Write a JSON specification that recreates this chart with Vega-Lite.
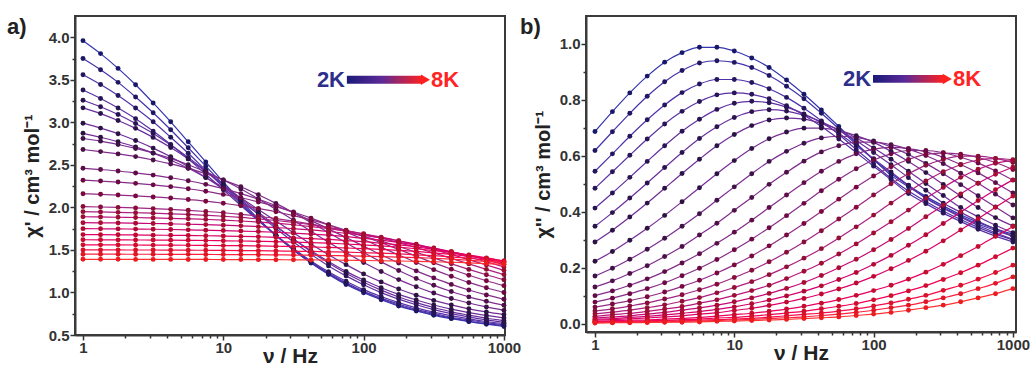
{
"$schema":"https://vega.github.io/schema/vega-lite/v6.json",
"background":"white",
"padding":{"left":5,"top":14,"right":5,"bottom":5},
"spacing":-3,
"config":{
"font":"Liberation Sans",
"view":{"stroke":"#3a3a3a","strokeWidth":2},
"axis":{"labelFont":"Liberation Sans","labelFontSize":15,"labelFontWeight":"bold","labelColor":"#333","titleFont":"Liberation Sans","titleFontWeight":"bold","titleColor":"#222","tickColor":"#333","tickWidth":1.5,"tickSize":5,"domainColor":"#3a3a3a","domainWidth":2,"grid":false,"labelPadding":1},
"axisX":{"titleFontSize":21,"titlePadding":-10,"labelFlush":false,"labelPadding":0},
"axisY":{"titleFontSize":20,"titlePadding":6}
},
"datasets":{"d":[
{"T":2,"f":1,"a":3.96,"b":0.687},{"T":2,"f":1.334,"a":3.808,"b":0.758},{"T":2,"f":1.778,"a":3.634,"b":0.825},{"T":2,"f":2.371,"a":3.442,"b":0.885},{"T":2,"f":3.162,"a":3.228,"b":0.935},{"T":2,"f":4.217,"a":3.006,"b":0.969},{"T":2,"f":5.623,"a":2.771,"b":0.988},{"T":2,"f":7.499,"a":2.535,"b":0.988},{"T":2,"f":10,"a":2.3,"b":0.975},{"T":2,"f":13.34,"a":2.078,"b":0.95},{"T":2,"f":17.78,"a":1.864,"b":0.916},{"T":2,"f":23.71,"a":1.672,"b":0.871},{"T":2,"f":31.62,"a":1.498,"b":0.82},{"T":2,"f":42.17,"a":1.346,"b":0.764},{"T":2,"f":56.23,"a":1.211,"b":0.705},{"T":2,"f":74.99,"a":1.093,"b":0.645},{"T":2,"f":100,"a":0.997,"b":0.587},{"T":2,"f":133.4,"a":0.914,"b":0.537},{"T":2,"f":177.8,"a":0.84,"b":0.494},{"T":2,"f":237.1,"a":0.783,"b":0.455},{"T":2,"f":316.2,"a":0.731,"b":0.421},{"T":2,"f":421.7,"a":0.692,"b":0.389},{"T":2,"f":562.3,"a":0.657,"b":0.362},{"T":2,"f":749.9,"a":0.627,"b":0.339},{"T":2,"f":1000,"a":0.6,"b":0.32},
{"T":2.26,"f":1,"a":3.75,"b":0.619},{"T":2.26,"f":1.334,"a":3.618,"b":0.686},{"T":2.26,"f":1.778,"a":3.47,"b":0.752},{"T":2.26,"f":2.371,"a":3.298,"b":0.813},{"T":2.26,"f":3.162,"a":3.113,"b":0.865},{"T":2.26,"f":4.217,"a":2.913,"b":0.905},{"T":2.26,"f":5.623,"a":2.701,"b":0.932},{"T":2.26,"f":7.499,"a":2.485,"b":0.94},{"T":2.26,"f":10,"a":2.268,"b":0.934},{"T":2.26,"f":13.34,"a":2.056,"b":0.916},{"T":2.26,"f":17.78,"a":1.856,"b":0.887},{"T":2.26,"f":23.71,"a":1.671,"b":0.849},{"T":2.26,"f":31.62,"a":1.499,"b":0.804},{"T":2.26,"f":42.17,"a":1.351,"b":0.752},{"T":2.26,"f":56.23,"a":1.219,"b":0.697},{"T":2.26,"f":74.99,"a":1.103,"b":0.641},{"T":2.26,"f":100,"a":1.007,"b":0.586},{"T":2.26,"f":133.4,"a":0.923,"b":0.53},{"T":2.26,"f":177.8,"a":0.85,"b":0.489},{"T":2.26,"f":237.1,"a":0.79,"b":0.45},{"T":2.26,"f":316.2,"a":0.742,"b":0.415},{"T":2.26,"f":421.7,"a":0.698,"b":0.384},{"T":2.26,"f":562.3,"a":0.662,"b":0.356},{"T":2.26,"f":749.9,"a":0.634,"b":0.333},{"T":2.26,"f":1000,"a":0.61,"b":0.312},
{"T":2.52,"f":1,"a":3.56,"b":0.545},{"T":2.52,"f":1.334,"a":3.445,"b":0.607},{"T":2.52,"f":1.778,"a":3.316,"b":0.67},{"T":2.52,"f":2.371,"a":3.168,"b":0.729},{"T":2.52,"f":3.162,"a":3.006,"b":0.782},{"T":2.52,"f":4.217,"a":2.825,"b":0.826},{"T":2.52,"f":5.623,"a":2.637,"b":0.857},{"T":2.52,"f":7.499,"a":2.437,"b":0.873},{"T":2.52,"f":10,"a":2.238,"b":0.873},{"T":2.52,"f":13.34,"a":2.038,"b":0.862},{"T":2.52,"f":17.78,"a":1.85,"b":0.84},{"T":2.52,"f":23.71,"a":1.669,"b":0.809},{"T":2.52,"f":31.62,"a":1.507,"b":0.77},{"T":2.52,"f":42.17,"a":1.359,"b":0.725},{"T":2.52,"f":56.23,"a":1.23,"b":0.676},{"T":2.52,"f":74.99,"a":1.115,"b":0.623},{"T":2.52,"f":100,"a":1.015,"b":0.571},{"T":2.52,"f":133.4,"a":0.934,"b":0.519},{"T":2.52,"f":177.8,"a":0.864,"b":0.474},{"T":2.52,"f":237.1,"a":0.801,"b":0.437},{"T":2.52,"f":316.2,"a":0.753,"b":0.403},{"T":2.52,"f":421.7,"a":0.709,"b":0.372},{"T":2.52,"f":562.3,"a":0.676,"b":0.344},{"T":2.52,"f":749.9,"a":0.646,"b":0.32},{"T":2.52,"f":1000,"a":0.62,"b":0.299},
{"T":2.78,"f":1,"a":3.38,"b":0.484},{"T":2.78,"f":1.334,"a":3.281,"b":0.543},{"T":2.78,"f":1.778,"a":3.169,"b":0.602},{"T":2.78,"f":2.371,"a":3.043,"b":0.66},{"T":2.78,"f":3.162,"a":2.897,"b":0.714},{"T":2.78,"f":4.217,"a":2.74,"b":0.759},{"T":2.78,"f":5.623,"a":2.57,"b":0.794},{"T":2.78,"f":7.499,"a":2.39,"b":0.818},{"T":2.78,"f":10,"a":2.207,"b":0.825},{"T":2.78,"f":13.34,"a":2.023,"b":0.82},{"T":2.78,"f":17.78,"a":1.843,"b":0.804},{"T":2.78,"f":23.71,"a":1.673,"b":0.779},{"T":2.78,"f":31.62,"a":1.516,"b":0.745},{"T":2.78,"f":42.17,"a":1.37,"b":0.705},{"T":2.78,"f":56.23,"a":1.244,"b":0.66},{"T":2.78,"f":74.99,"a":1.132,"b":0.612},{"T":2.78,"f":100,"a":1.033,"b":0.563},{"T":2.78,"f":133.4,"a":0.952,"b":0.514},{"T":2.78,"f":177.8,"a":0.88,"b":0.465},{"T":2.78,"f":237.1,"a":0.819,"b":0.429},{"T":2.78,"f":316.2,"a":0.768,"b":0.395},{"T":2.78,"f":421.7,"a":0.727,"b":0.365},{"T":2.78,"f":562.3,"a":0.69,"b":0.337},{"T":2.78,"f":749.9,"a":0.659,"b":0.313},{"T":2.78,"f":1000,"a":0.635,"b":0.292},
{"T":3.04,"f":1,"a":3.26,"b":0.413},{"T":3.04,"f":1.334,"a":3.184,"b":0.467},{"T":3.04,"f":1.778,"a":3.092,"b":0.523},{"T":3.04,"f":2.371,"a":2.987,"b":0.58},{"T":3.04,"f":3.162,"a":2.87,"b":0.636},{"T":3.04,"f":4.217,"a":2.734,"b":0.688},{"T":3.04,"f":5.623,"a":2.588,"b":0.731},{"T":3.04,"f":7.499,"a":2.43,"b":0.766},{"T":3.04,"f":10,"a":2.262,"b":0.788},{"T":3.04,"f":13.34,"a":2.091,"b":0.795},{"T":3.04,"f":17.78,"a":1.92,"b":0.79},{"T":3.04,"f":23.71,"a":1.752,"b":0.774},{"T":3.04,"f":31.62,"a":1.594,"b":0.75},{"T":3.04,"f":42.17,"a":1.448,"b":0.718},{"T":3.04,"f":56.23,"a":1.312,"b":0.68},{"T":3.04,"f":74.99,"a":1.195,"b":0.636},{"T":3.04,"f":100,"a":1.09,"b":0.59},{"T":3.04,"f":133.4,"a":0.998,"b":0.542},{"T":3.04,"f":177.8,"a":0.922,"b":0.495},{"T":3.04,"f":237.1,"a":0.856,"b":0.448},{"T":3.04,"f":316.2,"a":0.799,"b":0.413},{"T":3.04,"f":421.7,"a":0.751,"b":0.381},{"T":3.04,"f":562.3,"a":0.713,"b":0.351},{"T":3.04,"f":749.9,"a":0.678,"b":0.325},{"T":3.04,"f":1000,"a":0.65,"b":0.301},
{"T":3.3,"f":1,"a":3.17,"b":0.348},{"T":3.3,"f":1.334,"a":3.103,"b":0.397},{"T":3.3,"f":1.778,"a":3.022,"b":0.449},{"T":3.3,"f":2.371,"a":2.929,"b":0.503},{"T":3.3,"f":3.162,"a":2.823,"b":0.558},{"T":3.3,"f":4.217,"a":2.703,"b":0.612},{"T":3.3,"f":5.623,"a":2.57,"b":0.662},{"T":3.3,"f":7.499,"a":2.423,"b":0.704},{"T":3.3,"f":10,"a":2.269,"b":0.737},{"T":3.3,"f":13.34,"a":2.106,"b":0.758},{"T":3.3,"f":17.78,"a":1.944,"b":0.765},{"T":3.3,"f":23.71,"a":1.781,"b":0.76},{"T":3.3,"f":31.62,"a":1.627,"b":0.745},{"T":3.3,"f":42.17,"a":1.48,"b":0.722},{"T":3.3,"f":56.23,"a":1.347,"b":0.691},{"T":3.3,"f":74.99,"a":1.227,"b":0.654},{"T":3.3,"f":100,"a":1.121,"b":0.612},{"T":3.3,"f":133.4,"a":1.028,"b":0.568},{"T":3.3,"f":177.8,"a":0.947,"b":0.522},{"T":3.3,"f":237.1,"a":0.88,"b":0.477},{"T":3.3,"f":316.2,"a":0.823,"b":0.431},{"T":3.3,"f":421.7,"a":0.772,"b":0.398},{"T":3.3,"f":562.3,"a":0.733,"b":0.366},{"T":3.3,"f":749.9,"a":0.697,"b":0.338},{"T":3.3,"f":1000,"a":0.67,"b":0.313},
{"T":3.57,"f":1,"a":2.99,"b":0.292},{"T":3.57,"f":1.334,"a":2.932,"b":0.334},{"T":3.57,"f":1.778,"a":2.866,"b":0.381},{"T":3.57,"f":2.371,"a":2.787,"b":0.431},{"T":3.57,"f":3.162,"a":2.697,"b":0.484},{"T":3.57,"f":4.217,"a":2.595,"b":0.537},{"T":3.57,"f":5.623,"a":2.478,"b":0.588},{"T":3.57,"f":7.499,"a":2.352,"b":0.636},{"T":3.57,"f":10,"a":2.215,"b":0.676},{"T":3.57,"f":13.34,"a":2.069,"b":0.708},{"T":3.57,"f":17.78,"a":1.922,"b":0.728},{"T":3.57,"f":23.71,"a":1.774,"b":0.735},{"T":3.57,"f":31.62,"a":1.628,"b":0.731},{"T":3.57,"f":42.17,"a":1.491,"b":0.716},{"T":3.57,"f":56.23,"a":1.365,"b":0.694},{"T":3.57,"f":74.99,"a":1.248,"b":0.664},{"T":3.57,"f":100,"a":1.146,"b":0.628},{"T":3.57,"f":133.4,"a":1.056,"b":0.588},{"T":3.57,"f":177.8,"a":0.977,"b":0.545},{"T":3.57,"f":237.1,"a":0.911,"b":0.501},{"T":3.57,"f":316.2,"a":0.853,"b":0.458},{"T":3.57,"f":421.7,"a":0.804,"b":0.415},{"T":3.57,"f":562.3,"a":0.763,"b":0.382},{"T":3.57,"f":749.9,"a":0.73,"b":0.352},{"T":3.57,"f":1000,"a":0.7,"b":0.325},
{"T":3.83,"f":1,"a":2.871,"b":0.223},{"T":3.83,"f":1.334,"a":2.825,"b":0.258},{"T":3.83,"f":1.778,"a":2.772,"b":0.298},{"T":3.83,"f":2.371,"a":2.711,"b":0.341},{"T":3.83,"f":3.162,"a":2.638,"b":0.387},{"T":3.83,"f":4.217,"a":2.555,"b":0.436},{"T":3.83,"f":5.623,"a":2.461,"b":0.486},{"T":3.83,"f":7.499,"a":2.352,"b":0.536},{"T":3.83,"f":10,"a":2.236,"b":0.583},{"T":3.83,"f":13.34,"a":2.11,"b":0.626},{"T":3.83,"f":17.78,"a":1.976,"b":0.661},{"T":3.83,"f":23.71,"a":1.84,"b":0.685},{"T":3.83,"f":31.62,"a":1.703,"b":0.699},{"T":3.83,"f":42.17,"a":1.569,"b":0.699},{"T":3.83,"f":56.23,"a":1.443,"b":0.69},{"T":3.83,"f":74.99,"a":1.327,"b":0.672},{"T":3.83,"f":100,"a":1.218,"b":0.648},{"T":3.83,"f":133.4,"a":1.124,"b":0.616},{"T":3.83,"f":177.8,"a":1.041,"b":0.58},{"T":3.83,"f":237.1,"a":0.968,"b":0.54},{"T":3.83,"f":316.2,"a":0.907,"b":0.498},{"T":3.83,"f":421.7,"a":0.854,"b":0.456},{"T":3.83,"f":562.3,"a":0.808,"b":0.415},{"T":3.83,"f":749.9,"a":0.771,"b":0.379},{"T":3.83,"f":1000,"a":0.74,"b":0.349},
{"T":4.09,"f":1,"a":2.81,"b":0.17},{"T":4.09,"f":1.334,"a":2.779,"b":0.198},{"T":4.09,"f":1.778,"a":2.739,"b":0.23},{"T":4.09,"f":2.371,"a":2.693,"b":0.266},{"T":4.09,"f":3.162,"a":2.64,"b":0.305},{"T":4.09,"f":4.217,"a":2.576,"b":0.348},{"T":4.09,"f":5.623,"a":2.502,"b":0.393},{"T":4.09,"f":7.499,"a":2.418,"b":0.441},{"T":4.09,"f":10,"a":2.322,"b":0.489},{"T":4.09,"f":13.34,"a":2.217,"b":0.536},{"T":4.09,"f":17.78,"a":2.1,"b":0.58},{"T":4.09,"f":23.71,"a":1.978,"b":0.616},{"T":4.09,"f":31.62,"a":1.849,"b":0.645},{"T":4.09,"f":42.17,"a":1.72,"b":0.664},{"T":4.09,"f":56.23,"a":1.591,"b":0.67},{"T":4.09,"f":74.99,"a":1.469,"b":0.666},{"T":4.09,"f":100,"a":1.352,"b":0.653},{"T":4.09,"f":133.4,"a":1.247,"b":0.632},{"T":4.09,"f":177.8,"a":1.151,"b":0.605},{"T":4.09,"f":237.1,"a":1.067,"b":0.573},{"T":4.09,"f":316.2,"a":0.993,"b":0.536},{"T":4.09,"f":421.7,"a":0.929,"b":0.497},{"T":4.09,"f":562.3,"a":0.876,"b":0.457},{"T":4.09,"f":749.9,"a":0.83,"b":0.417},{"T":4.09,"f":1000,"a":0.79,"b":0.378},
{"T":4.35,"f":1,"a":2.68,"b":0.131},{"T":4.35,"f":1.334,"a":2.656,"b":0.153},{"T":4.35,"f":1.778,"a":2.629,"b":0.179},{"T":4.35,"f":2.371,"a":2.597,"b":0.207},{"T":4.35,"f":3.162,"a":2.557,"b":0.24},{"T":4.35,"f":4.217,"a":2.511,"b":0.276},{"T":4.35,"f":5.623,"a":2.459,"b":0.317},{"T":4.35,"f":7.499,"a":2.395,"b":0.359},{"T":4.35,"f":10,"a":2.323,"b":0.405},{"T":4.35,"f":13.34,"a":2.242,"b":0.451},{"T":4.35,"f":17.78,"a":2.148,"b":0.498},{"T":4.35,"f":23.71,"a":2.047,"b":0.541},{"T":4.35,"f":31.62,"a":1.938,"b":0.581},{"T":4.35,"f":42.17,"a":1.822,"b":0.614},{"T":4.35,"f":56.23,"a":1.704,"b":0.636},{"T":4.35,"f":74.99,"a":1.585,"b":0.649},{"T":4.35,"f":100,"a":1.469,"b":0.649},{"T":4.35,"f":133.4,"a":1.36,"b":0.64},{"T":4.35,"f":177.8,"a":1.259,"b":0.624},{"T":4.35,"f":237.1,"a":1.165,"b":0.601},{"T":4.35,"f":316.2,"a":1.084,"b":0.572},{"T":4.35,"f":421.7,"a":1.012,"b":0.538},{"T":4.35,"f":562.3,"a":0.948,"b":0.502},{"T":4.35,"f":749.9,"a":0.896,"b":0.463},{"T":4.35,"f":1000,"a":0.85,"b":0.424},
{"T":4.61,"f":1,"a":2.46,"b":0.1},{"T":4.61,"f":1.334,"a":2.445,"b":0.117},{"T":4.61,"f":1.778,"a":2.428,"b":0.137},{"T":4.61,"f":2.371,"a":2.405,"b":0.16},{"T":4.61,"f":3.162,"a":2.38,"b":0.186},{"T":4.61,"f":4.217,"a":2.348,"b":0.217},{"T":4.61,"f":5.623,"a":2.313,"b":0.25},{"T":4.61,"f":7.499,"a":2.271,"b":0.287},{"T":4.61,"f":10,"a":2.22,"b":0.327},{"T":4.61,"f":13.34,"a":2.162,"b":0.37},{"T":4.61,"f":17.78,"a":2.096,"b":0.415},{"T":4.61,"f":23.71,"a":2.02,"b":0.46},{"T":4.61,"f":31.62,"a":1.937,"b":0.504},{"T":4.61,"f":42.17,"a":1.845,"b":0.545},{"T":4.61,"f":56.23,"a":1.748,"b":0.58},{"T":4.61,"f":74.99,"a":1.646,"b":0.607},{"T":4.61,"f":100,"a":1.545,"b":0.624},{"T":4.61,"f":133.4,"a":1.443,"b":0.63},{"T":4.61,"f":177.8,"a":1.346,"b":0.626},{"T":4.61,"f":237.1,"a":1.254,"b":0.614},{"T":4.61,"f":316.2,"a":1.171,"b":0.595},{"T":4.61,"f":421.7,"a":1.095,"b":0.569},{"T":4.61,"f":562.3,"a":1.029,"b":0.539},{"T":4.61,"f":749.9,"a":0.971,"b":0.504},{"T":4.61,"f":1000,"a":0.92,"b":0.467},
{"T":4.87,"f":1,"a":2.32,"b":0.077},{"T":4.87,"f":1.334,"a":2.31,"b":0.091},{"T":4.87,"f":1.778,"a":2.298,"b":0.107},{"T":4.87,"f":2.371,"a":2.283,"b":0.125},{"T":4.87,"f":3.162,"a":2.265,"b":0.146},{"T":4.87,"f":4.217,"a":2.244,"b":0.171},{"T":4.87,"f":5.623,"a":2.219,"b":0.198},{"T":4.87,"f":7.499,"a":2.189,"b":0.229},{"T":4.87,"f":10,"a":2.153,"b":0.264},{"T":4.87,"f":13.34,"a":2.113,"b":0.302},{"T":4.87,"f":17.78,"a":2.064,"b":0.343},{"T":4.87,"f":23.71,"a":2.009,"b":0.386},{"T":4.87,"f":31.62,"a":1.946,"b":0.43},{"T":4.87,"f":42.17,"a":1.874,"b":0.475},{"T":4.87,"f":56.23,"a":1.796,"b":0.516},{"T":4.87,"f":74.99,"a":1.712,"b":0.554},{"T":4.87,"f":100,"a":1.623,"b":0.585},{"T":4.87,"f":133.4,"a":1.532,"b":0.607},{"T":4.87,"f":177.8,"a":1.441,"b":0.619},{"T":4.87,"f":237.1,"a":1.352,"b":0.619},{"T":4.87,"f":316.2,"a":1.268,"b":0.611},{"T":4.87,"f":421.7,"a":1.19,"b":0.595},{"T":4.87,"f":562.3,"a":1.118,"b":0.574},{"T":4.87,"f":749.9,"a":1.055,"b":0.546},{"T":4.87,"f":1000,"a":1,"b":0.513},
{"T":5.13,"f":1,"a":2.16,"b":0.059},{"T":5.13,"f":1.334,"a":2.154,"b":0.07},{"T":5.13,"f":1.778,"a":2.145,"b":0.082},{"T":5.13,"f":2.371,"a":2.135,"b":0.096},{"T":5.13,"f":3.162,"a":2.123,"b":0.113},{"T":5.13,"f":4.217,"a":2.11,"b":0.133},{"T":5.13,"f":5.623,"a":2.092,"b":0.155},{"T":5.13,"f":7.499,"a":2.073,"b":0.181},{"T":5.13,"f":10,"a":2.049,"b":0.21},{"T":5.13,"f":13.34,"a":2.021,"b":0.242},{"T":5.13,"f":17.78,"a":1.989,"b":0.278},{"T":5.13,"f":23.71,"a":1.949,"b":0.317},{"T":5.13,"f":31.62,"a":1.904,"b":0.358},{"T":5.13,"f":42.17,"a":1.853,"b":0.401},{"T":5.13,"f":56.23,"a":1.795,"b":0.445},{"T":5.13,"f":74.99,"a":1.731,"b":0.488},{"T":5.13,"f":100,"a":1.659,"b":0.528},{"T":5.13,"f":133.4,"a":1.585,"b":0.561},{"T":5.13,"f":177.8,"a":1.506,"b":0.587},{"T":5.13,"f":237.1,"a":1.427,"b":0.605},{"T":5.13,"f":316.2,"a":1.348,"b":0.61},{"T":5.13,"f":421.7,"a":1.274,"b":0.606},{"T":5.13,"f":562.3,"a":1.202,"b":0.594},{"T":5.13,"f":749.9,"a":1.138,"b":0.576},{"T":5.13,"f":1000,"a":1.08,"b":0.551},
{"T":5.39,"f":1,"a":2.01,"b":0.045},{"T":5.39,"f":1.334,"a":2.005,"b":0.053},{"T":5.39,"f":1.778,"a":2,"b":0.063},{"T":5.39,"f":2.371,"a":1.994,"b":0.074},{"T":5.39,"f":3.162,"a":1.986,"b":0.088},{"T":5.39,"f":4.217,"a":1.977,"b":0.103},{"T":5.39,"f":5.623,"a":1.966,"b":0.121},{"T":5.39,"f":7.499,"a":1.952,"b":0.141},{"T":5.39,"f":10,"a":1.937,"b":0.165},{"T":5.39,"f":13.34,"a":1.918,"b":0.191},{"T":5.39,"f":17.78,"a":1.896,"b":0.221},{"T":5.39,"f":23.71,"a":1.869,"b":0.255},{"T":5.39,"f":31.62,"a":1.839,"b":0.292},{"T":5.39,"f":42.17,"a":1.803,"b":0.332},{"T":5.39,"f":56.23,"a":1.761,"b":0.374},{"T":5.39,"f":74.99,"a":1.715,"b":0.416},{"T":5.39,"f":100,"a":1.661,"b":0.46},{"T":5.39,"f":133.4,"a":1.603,"b":0.5},{"T":5.39,"f":177.8,"a":1.54,"b":0.536},{"T":5.39,"f":237.1,"a":1.473,"b":0.566},{"T":5.39,"f":316.2,"a":1.406,"b":0.587},{"T":5.39,"f":421.7,"a":1.338,"b":0.599},{"T":5.39,"f":562.3,"a":1.271,"b":0.599},{"T":5.39,"f":749.9,"a":1.208,"b":0.591},{"T":5.39,"f":1000,"a":1.15,"b":0.576},
{"T":5.65,"f":1,"a":1.95,"b":0.035},{"T":5.65,"f":1.334,"a":1.947,"b":0.041},{"T":5.65,"f":1.778,"a":1.942,"b":0.048},{"T":5.65,"f":2.371,"a":1.937,"b":0.057},{"T":5.65,"f":3.162,"a":1.932,"b":0.067},{"T":5.65,"f":4.217,"a":1.925,"b":0.08},{"T":5.65,"f":5.623,"a":1.917,"b":0.093},{"T":5.65,"f":7.499,"a":1.907,"b":0.11},{"T":5.65,"f":10,"a":1.896,"b":0.129},{"T":5.65,"f":13.34,"a":1.882,"b":0.15},{"T":5.65,"f":17.78,"a":1.866,"b":0.175},{"T":5.65,"f":23.71,"a":1.846,"b":0.203},{"T":5.65,"f":31.62,"a":1.823,"b":0.234},{"T":5.65,"f":42.17,"a":1.797,"b":0.268},{"T":5.65,"f":56.23,"a":1.765,"b":0.306},{"T":5.65,"f":74.99,"a":1.728,"b":0.346},{"T":5.65,"f":100,"a":1.686,"b":0.388},{"T":5.65,"f":133.4,"a":1.638,"b":0.431},{"T":5.65,"f":177.8,"a":1.585,"b":0.472},{"T":5.65,"f":237.1,"a":1.527,"b":0.51},{"T":5.65,"f":316.2,"a":1.465,"b":0.543},{"T":5.65,"f":421.7,"a":1.401,"b":0.568},{"T":5.65,"f":562.3,"a":1.336,"b":0.585},{"T":5.65,"f":749.9,"a":1.272,"b":0.59},{"T":5.65,"f":1000,"a":1.21,"b":0.586},
{"T":5.91,"f":1,"a":1.89,"b":0.026},{"T":5.91,"f":1.334,"a":1.888,"b":0.032},{"T":5.91,"f":1.778,"a":1.884,"b":0.037},{"T":5.91,"f":2.371,"a":1.881,"b":0.044},{"T":5.91,"f":3.162,"a":1.876,"b":0.052},{"T":5.91,"f":4.217,"a":1.872,"b":0.061},{"T":5.91,"f":5.623,"a":1.866,"b":0.073},{"T":5.91,"f":7.499,"a":1.859,"b":0.085},{"T":5.91,"f":10,"a":1.851,"b":0.101},{"T":5.91,"f":13.34,"a":1.84,"b":0.118},{"T":5.91,"f":17.78,"a":1.828,"b":0.137},{"T":5.91,"f":23.71,"a":1.814,"b":0.161},{"T":5.91,"f":31.62,"a":1.796,"b":0.187},{"T":5.91,"f":42.17,"a":1.775,"b":0.216},{"T":5.91,"f":56.23,"a":1.751,"b":0.249},{"T":5.91,"f":74.99,"a":1.723,"b":0.285},{"T":5.91,"f":100,"a":1.69,"b":0.324},{"T":5.91,"f":133.4,"a":1.651,"b":0.364},{"T":5.91,"f":177.8,"a":1.608,"b":0.406},{"T":5.91,"f":237.1,"a":1.558,"b":0.448},{"T":5.91,"f":316.2,"a":1.505,"b":0.487},{"T":5.91,"f":421.7,"a":1.447,"b":0.523},{"T":5.91,"f":562.3,"a":1.386,"b":0.552},{"T":5.91,"f":749.9,"a":1.323,"b":0.573},{"T":5.91,"f":1000,"a":1.26,"b":0.584},
{"T":6.17,"f":1,"a":1.82,"b":0.02},{"T":6.17,"f":1.334,"a":1.819,"b":0.024},{"T":6.17,"f":1.778,"a":1.817,"b":0.028},{"T":6.17,"f":2.371,"a":1.814,"b":0.034},{"T":6.17,"f":3.162,"a":1.811,"b":0.04},{"T":6.17,"f":4.217,"a":1.806,"b":0.048},{"T":6.17,"f":5.623,"a":1.802,"b":0.056},{"T":6.17,"f":7.499,"a":1.798,"b":0.066},{"T":6.17,"f":10,"a":1.791,"b":0.078},{"T":6.17,"f":13.34,"a":1.783,"b":0.092},{"T":6.17,"f":17.78,"a":1.774,"b":0.108},{"T":6.17,"f":23.71,"a":1.764,"b":0.126},{"T":6.17,"f":31.62,"a":1.75,"b":0.147},{"T":6.17,"f":42.17,"a":1.736,"b":0.172},{"T":6.17,"f":56.23,"a":1.717,"b":0.2},{"T":6.17,"f":74.99,"a":1.696,"b":0.23},{"T":6.17,"f":100,"a":1.671,"b":0.264},{"T":6.17,"f":133.4,"a":1.641,"b":0.301},{"T":6.17,"f":177.8,"a":1.606,"b":0.34},{"T":6.17,"f":237.1,"a":1.567,"b":0.382},{"T":6.17,"f":316.2,"a":1.522,"b":0.423},{"T":6.17,"f":421.7,"a":1.473,"b":0.464},{"T":6.17,"f":562.3,"a":1.418,"b":0.502},{"T":6.17,"f":749.9,"a":1.361,"b":0.534},{"T":6.17,"f":1000,"a":1.3,"b":0.559},
{"T":6.43,"f":1,"a":1.75,"b":0.016},{"T":6.43,"f":1.334,"a":1.749,"b":0.018},{"T":6.43,"f":1.778,"a":1.747,"b":0.022},{"T":6.43,"f":2.371,"a":1.745,"b":0.026},{"T":6.43,"f":3.162,"a":1.743,"b":0.031},{"T":6.43,"f":4.217,"a":1.74,"b":0.037},{"T":6.43,"f":5.623,"a":1.736,"b":0.043},{"T":6.43,"f":7.499,"a":1.732,"b":0.051},{"T":6.43,"f":10,"a":1.728,"b":0.06},{"T":6.43,"f":13.34,"a":1.722,"b":0.071},{"T":6.43,"f":17.78,"a":1.716,"b":0.084},{"T":6.43,"f":23.71,"a":1.708,"b":0.099},{"T":6.43,"f":31.62,"a":1.698,"b":0.116},{"T":6.43,"f":42.17,"a":1.686,"b":0.135},{"T":6.43,"f":56.23,"a":1.673,"b":0.158},{"T":6.43,"f":74.99,"a":1.657,"b":0.183},{"T":6.43,"f":100,"a":1.637,"b":0.212},{"T":6.43,"f":133.4,"a":1.615,"b":0.244},{"T":6.43,"f":177.8,"a":1.589,"b":0.28},{"T":6.43,"f":237.1,"a":1.557,"b":0.318},{"T":6.43,"f":316.2,"a":1.521,"b":0.358},{"T":6.43,"f":421.7,"a":1.481,"b":0.399},{"T":6.43,"f":562.3,"a":1.434,"b":0.44},{"T":6.43,"f":749.9,"a":1.384,"b":0.479},{"T":6.43,"f":1000,"a":1.33,"b":0.514},
{"T":6.7,"f":1,"a":1.68,"b":0.012},{"T":6.7,"f":1.334,"a":1.679,"b":0.014},{"T":6.7,"f":1.778,"a":1.678,"b":0.017},{"T":6.7,"f":2.371,"a":1.676,"b":0.02},{"T":6.7,"f":3.162,"a":1.674,"b":0.024},{"T":6.7,"f":4.217,"a":1.672,"b":0.028},{"T":6.7,"f":5.623,"a":1.67,"b":0.034},{"T":6.7,"f":7.499,"a":1.667,"b":0.039},{"T":6.7,"f":10,"a":1.663,"b":0.047},{"T":6.7,"f":13.34,"a":1.659,"b":0.055},{"T":6.7,"f":17.78,"a":1.655,"b":0.065},{"T":6.7,"f":23.71,"a":1.648,"b":0.077},{"T":6.7,"f":31.62,"a":1.641,"b":0.09},{"T":6.7,"f":42.17,"a":1.632,"b":0.106},{"T":6.7,"f":56.23,"a":1.623,"b":0.124},{"T":6.7,"f":74.99,"a":1.61,"b":0.145},{"T":6.7,"f":100,"a":1.597,"b":0.169},{"T":6.7,"f":133.4,"a":1.579,"b":0.196},{"T":6.7,"f":177.8,"a":1.559,"b":0.226},{"T":6.7,"f":237.1,"a":1.536,"b":0.259},{"T":6.7,"f":316.2,"a":1.507,"b":0.296},{"T":6.7,"f":421.7,"a":1.475,"b":0.335},{"T":6.7,"f":562.3,"a":1.438,"b":0.375},{"T":6.7,"f":749.9,"a":1.396,"b":0.416},{"T":6.7,"f":1000,"a":1.35,"b":0.456},
{"T":6.96,"f":1,"a":1.62,"b":0.008},{"T":6.96,"f":1.334,"a":1.619,"b":0.01},{"T":6.96,"f":1.778,"a":1.618,"b":0.012},{"T":6.96,"f":2.371,"a":1.617,"b":0.013},{"T":6.96,"f":3.162,"a":1.616,"b":0.016},{"T":6.96,"f":4.217,"a":1.615,"b":0.019},{"T":6.96,"f":5.623,"a":1.613,"b":0.022},{"T":6.96,"f":7.499,"a":1.611,"b":0.027},{"T":6.96,"f":10,"a":1.608,"b":0.032},{"T":6.96,"f":13.34,"a":1.605,"b":0.037},{"T":6.96,"f":17.78,"a":1.601,"b":0.044},{"T":6.96,"f":23.71,"a":1.597,"b":0.052},{"T":6.96,"f":31.62,"a":1.592,"b":0.062},{"T":6.96,"f":42.17,"a":1.586,"b":0.073},{"T":6.96,"f":56.23,"a":1.579,"b":0.086},{"T":6.96,"f":74.99,"a":1.57,"b":0.101},{"T":6.96,"f":100,"a":1.559,"b":0.118},{"T":6.96,"f":133.4,"a":1.547,"b":0.137},{"T":6.96,"f":177.8,"a":1.532,"b":0.159},{"T":6.96,"f":237.1,"a":1.514,"b":0.184},{"T":6.96,"f":316.2,"a":1.493,"b":0.212},{"T":6.96,"f":421.7,"a":1.469,"b":0.243},{"T":6.96,"f":562.3,"a":1.44,"b":0.276},{"T":6.96,"f":749.9,"a":1.407,"b":0.312},{"T":6.96,"f":1000,"a":1.37,"b":0.347},
{"T":7.22,"f":1,"a":1.56,"b":0.006},{"T":7.22,"f":1.334,"a":1.56,"b":0.007},{"T":7.22,"f":1.778,"a":1.559,"b":0.008},{"T":7.22,"f":2.371,"a":1.558,"b":0.01},{"T":7.22,"f":3.162,"a":1.557,"b":0.011},{"T":7.22,"f":4.217,"a":1.556,"b":0.014},{"T":7.22,"f":5.623,"a":1.555,"b":0.016},{"T":7.22,"f":7.499,"a":1.553,"b":0.02},{"T":7.22,"f":10,"a":1.551,"b":0.022},{"T":7.22,"f":13.34,"a":1.55,"b":0.027},{"T":7.22,"f":17.78,"a":1.547,"b":0.032},{"T":7.22,"f":23.71,"a":1.543,"b":0.038},{"T":7.22,"f":31.62,"a":1.539,"b":0.044},{"T":7.22,"f":42.17,"a":1.535,"b":0.053},{"T":7.22,"f":56.23,"a":1.529,"b":0.062},{"T":7.22,"f":74.99,"a":1.523,"b":0.072},{"T":7.22,"f":100,"a":1.515,"b":0.085},{"T":7.22,"f":133.4,"a":1.506,"b":0.1},{"T":7.22,"f":177.8,"a":1.495,"b":0.117},{"T":7.22,"f":237.1,"a":1.482,"b":0.136},{"T":7.22,"f":316.2,"a":1.466,"b":0.158},{"T":7.22,"f":421.7,"a":1.447,"b":0.182},{"T":7.22,"f":562.3,"a":1.426,"b":0.209},{"T":7.22,"f":749.9,"a":1.4,"b":0.239},{"T":7.22,"f":1000,"a":1.37,"b":0.27},
{"T":7.48,"f":1,"a":1.5,"b":0.005},{"T":7.48,"f":1.334,"a":1.5,"b":0.005},{"T":7.48,"f":1.778,"a":1.5,"b":0.006},{"T":7.48,"f":2.371,"a":1.499,"b":0.007},{"T":7.48,"f":3.162,"a":1.499,"b":0.009},{"T":7.48,"f":4.217,"a":1.498,"b":0.01},{"T":7.48,"f":5.623,"a":1.497,"b":0.012},{"T":7.48,"f":7.499,"a":1.496,"b":0.014},{"T":7.48,"f":10,"a":1.495,"b":0.016},{"T":7.48,"f":13.34,"a":1.493,"b":0.019},{"T":7.48,"f":17.78,"a":1.491,"b":0.023},{"T":7.48,"f":23.71,"a":1.488,"b":0.028},{"T":7.48,"f":31.62,"a":1.485,"b":0.033},{"T":7.48,"f":42.17,"a":1.482,"b":0.038},{"T":7.48,"f":56.23,"a":1.478,"b":0.045},{"T":7.48,"f":74.99,"a":1.474,"b":0.053},{"T":7.48,"f":100,"a":1.468,"b":0.063},{"T":7.48,"f":133.4,"a":1.462,"b":0.074},{"T":7.48,"f":177.8,"a":1.453,"b":0.087},{"T":7.48,"f":237.1,"a":1.443,"b":0.101},{"T":7.48,"f":316.2,"a":1.432,"b":0.119},{"T":7.48,"f":421.7,"a":1.418,"b":0.137},{"T":7.48,"f":562.3,"a":1.402,"b":0.159},{"T":7.48,"f":749.9,"a":1.382,"b":0.183},{"T":7.48,"f":1000,"a":1.36,"b":0.209},
{"T":7.74,"f":1,"a":1.45,"b":0.003},{"T":7.74,"f":1.334,"a":1.45,"b":0.004},{"T":7.74,"f":1.778,"a":1.45,"b":0.005},{"T":7.74,"f":2.371,"a":1.449,"b":0.005},{"T":7.74,"f":3.162,"a":1.449,"b":0.006},{"T":7.74,"f":4.217,"a":1.448,"b":0.008},{"T":7.74,"f":5.623,"a":1.448,"b":0.009},{"T":7.74,"f":7.499,"a":1.447,"b":0.011},{"T":7.74,"f":10,"a":1.446,"b":0.013},{"T":7.74,"f":13.34,"a":1.445,"b":0.015},{"T":7.74,"f":17.78,"a":1.444,"b":0.018},{"T":7.74,"f":23.71,"a":1.442,"b":0.021},{"T":7.74,"f":31.62,"a":1.44,"b":0.024},{"T":7.74,"f":42.17,"a":1.438,"b":0.029},{"T":7.74,"f":56.23,"a":1.434,"b":0.034},{"T":7.74,"f":74.99,"a":1.431,"b":0.04},{"T":7.74,"f":100,"a":1.427,"b":0.048},{"T":7.74,"f":133.4,"a":1.422,"b":0.057},{"T":7.74,"f":177.8,"a":1.416,"b":0.066},{"T":7.74,"f":237.1,"a":1.41,"b":0.078},{"T":7.74,"f":316.2,"a":1.402,"b":0.092},{"T":7.74,"f":421.7,"a":1.392,"b":0.107},{"T":7.74,"f":562.3,"a":1.381,"b":0.125},{"T":7.74,"f":749.9,"a":1.366,"b":0.144},{"T":7.74,"f":1000,"a":1.35,"b":0.167},
{"T":8,"f":1,"a":1.39,"b":0.002},{"T":8,"f":1.334,"a":1.39,"b":0.003},{"T":8,"f":1.778,"a":1.39,"b":0.003},{"T":8,"f":2.371,"a":1.389,"b":0.004},{"T":8,"f":3.162,"a":1.389,"b":0.005},{"T":8,"f":4.217,"a":1.389,"b":0.005},{"T":8,"f":5.623,"a":1.388,"b":0.006},{"T":8,"f":7.499,"a":1.388,"b":0.008},{"T":8,"f":10,"a":1.387,"b":0.009},{"T":8,"f":13.34,"a":1.387,"b":0.011},{"T":8,"f":17.78,"a":1.386,"b":0.013},{"T":8,"f":23.71,"a":1.385,"b":0.015},{"T":8,"f":31.62,"a":1.384,"b":0.018},{"T":8,"f":42.17,"a":1.382,"b":0.021},{"T":8,"f":56.23,"a":1.381,"b":0.024},{"T":8,"f":74.99,"a":1.379,"b":0.029},{"T":8,"f":100,"a":1.376,"b":0.034},{"T":8,"f":133.4,"a":1.373,"b":0.04},{"T":8,"f":177.8,"a":1.37,"b":0.048},{"T":8,"f":237.1,"a":1.366,"b":0.057},{"T":8,"f":316.2,"a":1.361,"b":0.066},{"T":8,"f":421.7,"a":1.355,"b":0.078},{"T":8,"f":562.3,"a":1.348,"b":0.092},{"T":8,"f":749.9,"a":1.34,"b":0.107},{"T":8,"f":1000,"a":1.33,"b":0.125}
]},
"hconcat":[
{"width":430,"height":319,
"layer":[
{"data":{"name":"d"},"mark":{"type":"line","strokeWidth":1.2,"interpolate":"monotone"},
"encoding":{
"x":{"field":"f","type":"quantitative","scale":{"type":"log","domain":[0.877,1018]},"axis":{"orient":"bottom","values":[1,10,100,1000],"format":"d","title":"\u00a0\u00a0\u00a0\u00a0\u00a0\u00a0ν / Hz"}},
"y":{"field":"a","type":"quantitative","scale":{"domain":[0.5,4.25]},"axis":{"orient":"left","values":[0.5,1,1.5,2,2.5,3,3.5,4],"format":".1f","title":"\u00a0\u00a0\u00a0χ' / cm³ mol⁻¹"}},
"detail":{"field":"T","type":"nominal"},
"stroke":{"field":"T","type":"quantitative","scale":{"domain":[2,5,8],"range":["#3434b0","#8a2e86","#ff3030"]},"legend":null}}},
{"data":{"name":"d"},"mark":{"type":"point","filled":true,"size":24,"opacity":1},
"encoding":{
"x":{"field":"f","type":"quantitative","scale":{"type":"log","domain":[0.877,1018]},"axis":{"orient":"bottom","values":[2,3,4,5,6,7,8,9,20,30,40,50,60,70,80,90,200,300,400,500,600,700,800,900],"labels":false,"tickSize":3,"domain":false,"title":null}},
"y":{"field":"a","type":"quantitative","scale":{"domain":[0.5,4.25]},"axis":{"orient":"left","values":[0.75,1.25,1.75,2.25,2.75,3.25,3.75],"labels":false,"tickSize":3,"domain":false,"title":null}},
"fill":{"field":"T","type":"quantitative","scale":{"domain":[2,3.8,5.5,8],"range":["#18186a","#2a1440","#8c1232","#ea1c20"]},"legend":null}}},
{"data":{"values":[{"t":"a)","f":0.287,"v":4.12}]},"mark":{"type":"text","fontSize":22,"fontWeight":"bold","align":"left","baseline":"middle","color":"#222"},
"encoding":{"x":{"field":"f","type":"quantitative","scale":{"type":"log","domain":[0.877,1018]},"axis":null},"y":{"field":"v","type":"quantitative","scale":{"domain":[0.5,4.25]},"axis":null},"text":{"field":"t"}}},
{"data":{"values":[{"t":"2K","f":73.7,"v":3.5}]},"mark":{"type":"text","fontSize":22,"fontWeight":"bold","align":"right","baseline":"middle","color":"#2e2e8c"},
"encoding":{"x":{"field":"f","type":"quantitative","scale":{"type":"log","domain":[0.877,1018]},"axis":null},"y":{"field":"v","type":"quantitative","scale":{"domain":[0.5,4.25]},"axis":null},"text":{"field":"t"}}},
{"data":{"values":[{"t":"8K","f":302,"v":3.5}]},"mark":{"type":"text","fontSize":22,"fontWeight":"bold","align":"left","baseline":"middle","color":"#ff2424"},
"encoding":{"x":{"field":"f","type":"quantitative","scale":{"type":"log","domain":[0.877,1018]},"axis":null},"y":{"field":"v","type":"quantitative","scale":{"domain":[0.5,4.25]},"axis":null},"text":{"field":"t"}}},
{"data":{"values":[{"f":76,"f2":263,"v":3.547,"v2":3.453}]},"mark":{"type":"rect","fill":{"gradient":"linear","stops":[{"offset":0,"color":"#1a1a78"},{"offset":0.45,"color":"#5a2a98"},{"offset":1,"color":"#ff2020"}]}},
"encoding":{"x":{"field":"f","type":"quantitative","scale":{"type":"log","domain":[0.877,1018]},"axis":null},"x2":{"field":"f2"},"y":{"field":"v","type":"quantitative","scale":{"domain":[0.5,4.25]},"axis":null},"y2":{"field":"v2"}}},
{"data":{"values":[{"f":276,"v":3.5}]},"mark":{"type":"point","shape":"triangle-right","filled":true,"size":110,"fill":"#ff2020","opacity":1},
"encoding":{"x":{"field":"f","type":"quantitative","scale":{"type":"log","domain":[0.877,1018]},"axis":null},"y":{"field":"v","type":"quantitative","scale":{"domain":[0.5,4.25]},"axis":null}}}
],
"resolve":{"axis":{"x":"independent","y":"independent"}}},
{"width":430,"height":316,
"layer":[
{"data":{"name":"d"},"mark":{"type":"line","strokeWidth":1.2,"interpolate":"monotone"},
"encoding":{
"x":{"field":"f","type":"quantitative","scale":{"type":"log","domain":[0.862,1052]},"axis":{"orient":"bottom","values":[1,10,100,1000],"format":"d","title":"\u00a0\u00a0\u00a0\u00a0\u00a0\u00a0ν / Hz"}},
"y":{"field":"b","type":"quantitative","scale":{"domain":[-0.03,1.1]},"axis":{"orient":"left","values":[0,0.2,0.4,0.6,0.8,1],"format":".1f","title":"\u00a0\u00a0\u00a0χ'' / cm³ mol⁻¹"}},
"detail":{"field":"T","type":"nominal"},
"stroke":{"field":"T","type":"quantitative","scale":{"domain":[2,5,8],"range":["#3434b0","#8a2e86","#ff3030"]},"legend":null}}},
{"data":{"name":"d"},"mark":{"type":"point","filled":true,"size":24,"opacity":1},
"encoding":{
"x":{"field":"f","type":"quantitative","scale":{"type":"log","domain":[0.862,1052]},"axis":{"orient":"bottom","values":[2,3,4,5,6,7,8,9,20,30,40,50,60,70,80,90,200,300,400,500,600,700,800,900],"labels":false,"tickSize":3,"domain":false,"title":null}},
"y":{"field":"b","type":"quantitative","scale":{"domain":[-0.03,1.1]},"axis":{"orient":"left","values":[0.1,0.3,0.5,0.7,0.9],"labels":false,"tickSize":3,"domain":false,"title":null}},
"fill":{"field":"T","type":"quantitative","scale":{"domain":[2,3.8,5.5,8],"range":["#18186a","#2a1440","#8c1232","#ea1c20"]},"legend":null}}},
{"data":{"values":[{"t":"b)","f":0.29,"v":1.062}]},"mark":{"type":"text","fontSize":22,"fontWeight":"bold","align":"left","baseline":"middle","color":"#222"},
"encoding":{"x":{"field":"f","type":"quantitative","scale":{"type":"log","domain":[0.862,1052]},"axis":null},"y":{"field":"v","type":"quantitative","scale":{"domain":[-0.03,1.1]},"axis":null},"text":{"field":"t"}}},
{"data":{"values":[{"t":"2K","f":95.8,"v":0.875}]},"mark":{"type":"text","fontSize":22,"fontWeight":"bold","align":"right","baseline":"middle","color":"#2e2e8c"},
"encoding":{"x":{"field":"f","type":"quantitative","scale":{"type":"log","domain":[0.862,1052]},"axis":null},"y":{"field":"v","type":"quantitative","scale":{"domain":[-0.03,1.1]},"axis":null},"text":{"field":"t"}}},
{"data":{"values":[{"t":"8K","f":371,"v":0.875}]},"mark":{"type":"text","fontSize":22,"fontWeight":"bold","align":"left","baseline":"middle","color":"#ff2424"},
"encoding":{"x":{"field":"f","type":"quantitative","scale":{"type":"log","domain":[0.862,1052]},"axis":null},"y":{"field":"v","type":"quantitative","scale":{"domain":[-0.03,1.1]},"axis":null},"text":{"field":"t"}}},
{"data":{"values":[{"f":99,"f2":318,"v":0.889,"v2":0.861}]},"mark":{"type":"rect","fill":{"gradient":"linear","stops":[{"offset":0,"color":"#1a1a78"},{"offset":0.45,"color":"#5a2a98"},{"offset":1,"color":"#ff2020"}]}},
"encoding":{"x":{"field":"f","type":"quantitative","scale":{"type":"log","domain":[0.862,1052]},"axis":null},"x2":{"field":"f2"},"y":{"field":"v","type":"quantitative","scale":{"domain":[-0.03,1.1]},"axis":null},"y2":{"field":"v2"}}},
{"data":{"values":[{"f":338,"v":0.875}]},"mark":{"type":"point","shape":"triangle-right","filled":true,"size":110,"fill":"#ff2020","opacity":1},
"encoding":{"x":{"field":"f","type":"quantitative","scale":{"type":"log","domain":[0.862,1052]},"axis":null},"y":{"field":"v","type":"quantitative","scale":{"domain":[-0.03,1.1]},"axis":null}}}
],
"resolve":{"axis":{"x":"independent","y":"independent"}}}
]
}
